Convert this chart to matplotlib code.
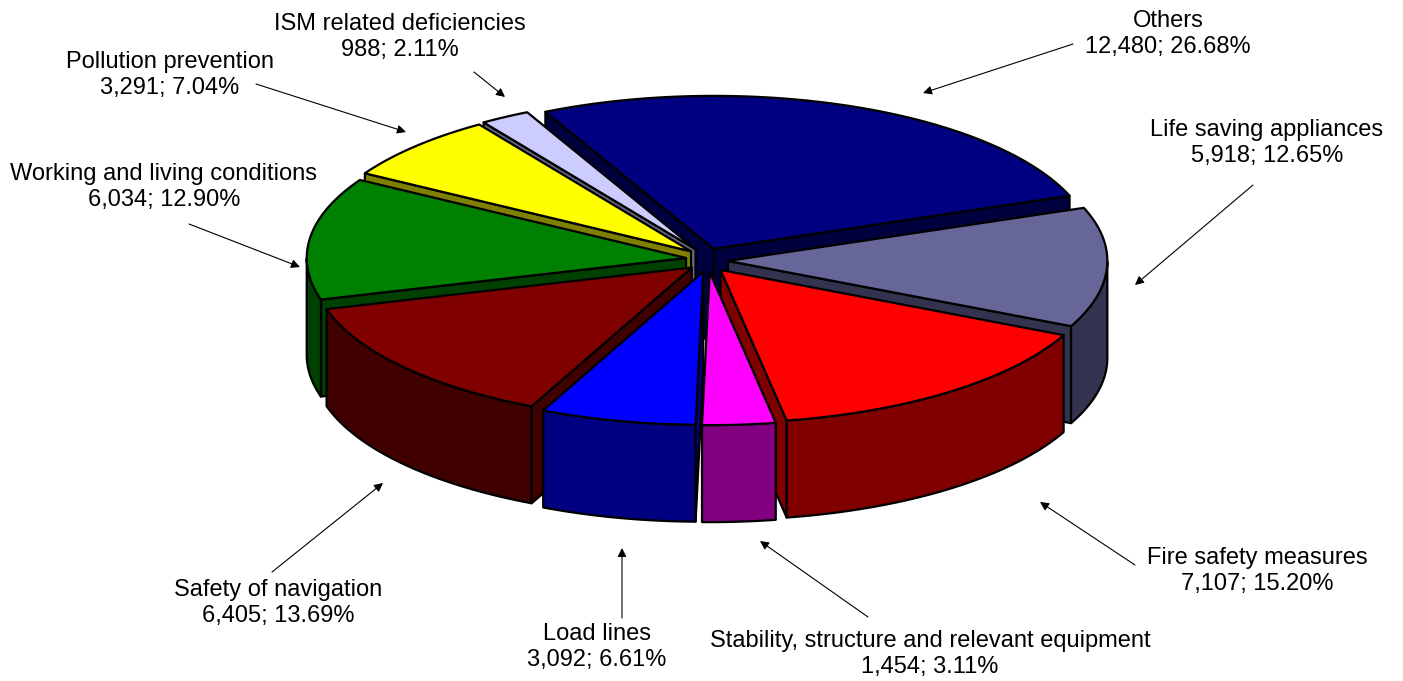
import numpy as np
import matplotlib
matplotlib.use('Agg')
import matplotlib.pyplot as plt
from matplotlib.patches import Polygon

plt.rcParams['font.family'] = ['Liberation Sans', 'DejaVu Sans']

names = ['Others', 'Life saving appliances', 'Fire safety measures',
         'Stability, structure and relevant equipment', 'Load lines',
         'Safety of navigation', 'Working and living conditions',
         'Pollution prevention', 'ISM related deficiencies']
values = [12480, 5918, 7107, 1454, 3092, 6405, 6034, 3291, 988]
top_colors = ['#000080', '#666699', '#FF0000', '#FF00FF', '#0000FF',
              '#800000', '#008000', '#FFFF00', '#CCCCFF']
side_colors = ['#00003F', '#333350', '#800000', '#800080', '#000080',
               '#400000', '#004000', '#808000', '#666680']

# label centre, arrow tail, arrow head (pixels)
label_pos = [(1168, 34), (1267, 143), (1257, 571), (930, 654), (597, 647),
             (278, 603), (164, 187), (170, 75), (400, 37)]
arrow_from = [(1073, 44), (1253, 185), (1135, 565), (868, 617), (622, 618),
              (272, 572), (189, 224), (256, 84), (474, 72)]
arrow_to = [(923, 93), (1135, 285), (1040, 502), (760, 541), (622, 548),
            (383, 483), (300, 267), (406, 132), (505, 97)]

cx, cy = 707, 260
rx, ry = 377, 152
shear_x, shear_y = -42, -17   # view is not square on to the pie
depth = 97
explode_x, explode_y = 0.055, 0.08
start = 110
# back to front, so the front wedges paint over the others
draw_order = [0, 8, 7, 1, 6, 2, 5, 4, 3]


def project(t, off):
    # t in degrees on the disc, off = explode offset on the disc
    t = np.radians(t)
    u = np.cos(t) + off[0]
    v = np.sin(t) + off[1]
    return cx + rx * u + shear_x * v, cy - ry * v + shear_y * u


def cross(a, b):
    return a[0] * b[1] - a[1] * b[0]


fig = plt.figure(figsize=(14.03, 6.81), dpi=100)
ax = fig.add_axes([0, 0, 1, 1])
ax.set_xlim(0, 1403)
ax.set_ylim(681, 0)
ax.axis('off')

total = sum(values)
edges = start - np.cumsum([0] + values) / total * 360

z = 2
down = np.array([0, depth])
for i in draw_order:
    a0, a1 = edges[i], edges[i + 1]
    mid = np.radians((a0 + a1) / 2)
    off = (explode_x * np.cos(mid), explode_y * np.sin(mid))
    ts = np.linspace(a0, a1, 120)
    arc = np.array([project(t, off) for t in ts])
    apex = np.array([cx + rx * off[0] + shear_x * off[1],
                     cy - ry * off[1] + shear_y * off[0]])
    kw = dict(edgecolor='black', linewidth=1.6, joinstyle='round')
    inside = arc[len(arc) // 2] - apex
    for end in (arc[0], arc[-1]):
        # skip a cut face that points away from the viewer
        if cross(end - apex, inside) * cross(end - apex, down) > 0:
            continue
        wall = [apex, end, end + down, apex + down]
        ax.add_patch(Polygon(wall, facecolor=side_colors[i], zorder=z, **kw))
        z += 1
    # outer wall only where the rim faces the viewer
    rad = np.radians(ts)
    front = -rx * np.sin(rad) + shear_x * np.cos(rad) > 0
    if front.any():
        seg = arc[front]
        ax.add_patch(Polygon(np.vstack([seg, (seg + down)[::-1]]),
                             facecolor=side_colors[i], zorder=z, **kw))
        z += 1
    ax.add_patch(Polygon(np.vstack([apex, arc]), facecolor=top_colors[i],
                         zorder=z, **kw))
    z += 1

for i, name in enumerate(names):
    pct = values[i] / total * 100
    ax.text(label_pos[i][0], label_pos[i][1],
            f'{name}\n{values[i]:,}; {pct:.2f}%',
            ha='center', va='center', fontsize=17, linespacing=1.2,
            color='black', zorder=200)
    ax.annotate('', xy=arrow_to[i], xytext=arrow_from[i], zorder=200,
                arrowprops=dict(arrowstyle='-|>', color='black', lw=0.8,
                                mutation_scale=13, shrinkA=0, shrinkB=0))

fig.savefig('out.png', dpi=100)
